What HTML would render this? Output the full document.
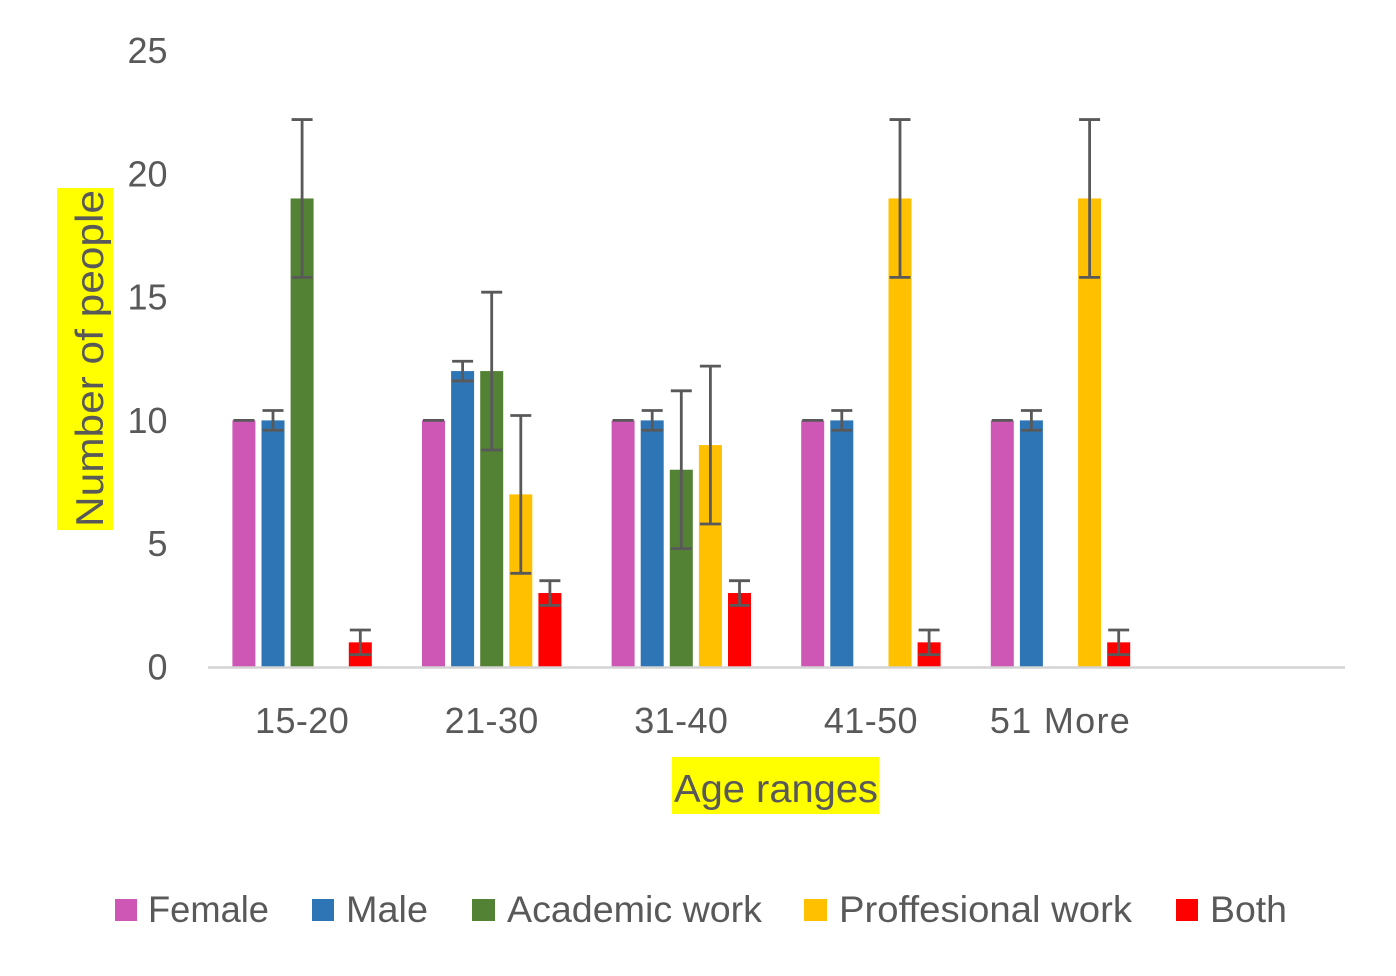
<!DOCTYPE html>
<html lang="en">
<head>
<meta charset="utf-8">
<title>Number of people by age range</title>
<style>
  html, body { margin: 0; padding: 0; background: #fff; }
  svg { display: block; }
  text { font-family: "Liberation Sans", sans-serif; fill: #595959; }
</style>
</head>
<body>
<svg id="chart" xmlns="http://www.w3.org/2000/svg" width="1396" height="976" viewBox="0 0 1396 976">
  <rect x="0" y="0" width="1396" height="976" fill="#ffffff"/>
  <g id="marks"></g>
  <rect x="57" y="188" width="56" height="342" fill="#ffff00"/>
  <text transform="translate(103,527) rotate(-90)" font-size="39" textLength="337" lengthAdjust="spacingAndGlyphs">Number of people</text>
  <rect x="672" y="757" width="207" height="57" fill="#ffff00"/>
  <text x="674" y="802" font-size="39" textLength="204" lengthAdjust="spacingAndGlyphs">Age ranges</text>
  <g>
    <g>
      <rect x="115" y="899" width="22" height="22" fill="#ce57b5"/>
      <text x="148" y="922" font-size="37" textLength="121" lengthAdjust="spacingAndGlyphs">Female</text>
    </g>
    <g>
      <rect x="312" y="899" width="22" height="22" fill="#2e75b6"/>
      <text x="346" y="922" font-size="37" textLength="82" lengthAdjust="spacingAndGlyphs">Male</text>
    </g>
    <g>
      <rect x="472" y="899" width="23" height="22" fill="#548235"/>
      <text x="507" y="922" font-size="37" textLength="255" lengthAdjust="spacingAndGlyphs">Academic work</text>
    </g>
    <g>
      <rect x="804" y="899" width="23" height="22" fill="#ffc000"/>
      <text x="839" y="922" font-size="37" textLength="293" lengthAdjust="spacingAndGlyphs">Proffesional work</text>
    </g>
    <g>
      <rect x="1176" y="899" width="22" height="22" fill="#ff0000"/>
      <text x="1210" y="922" font-size="37" textLength="77" lengthAdjust="spacingAndGlyphs">Both</text>
    </g>
  </g>
</svg>
<script>
const categories = ["15-20", "21-30", "31-40", "41-50", "51 More", ""];
const yTicks = [0, 5, 10, 15, 20, 25];
const seriesNames = ["female", "male", "academic-work", "proffesional-work", "both"];
const seriesColors = ["#ce57b5", "#2e75b6", "#548235", "#ffc000", "#ff0000"];
const femaleValues = [10, 10, 10, 10, 10, null];
const maleValues = [10, 12, 10, 10, 10, null];
const academicValues = [19, 12, 8, null, null, null];
const professionalValues = [null, 7, 9, 19, 19, null];
const bothValues = [1, 3, 3, 1, 1, null];
const errorAmounts = [0, 0.4, 3.2, 3.2, 0.5];

const seriesValues = [femaleValues, maleValues, academicValues, professionalValues, bothValues];
const NS = "http://www.w3.org/2000/svg";
const marks = document.getElementById("marks");

function yScale(v) { return 667 - (v / 25) * 616.5; }
function xCenter(i) { return 207.3 + 189.6 * (i + 0.5); }
function xBar(i, s) { return xCenter(i) + (s - 2) * 29.1; }

function make(tag, attrs) {
  const el = document.createElementNS(NS, tag);
  for (const k in attrs) el.setAttribute(k, attrs[k]);
  marks.appendChild(el);
  return el;
}

yTicks.forEach(function (t) {
  const el = make("text", { x: 167.5, y: yScale(t) + 12.5, "font-size": 36, "text-anchor": "end" });
  el.textContent = String(t);
  
  
});

categories.forEach(function (c, i) {
  if (!c) return;
  const el = make("text", {
    x: xCenter(i), y: 733, "font-size": 36, "text-anchor": "middle",
    "letter-spacing": c.indexOf(" ") >= 0 ? 1.3 : 0.4
  });
  el.textContent = c;
  
  
});

seriesValues.forEach(function (values, s) {
  values.forEach(function (v, i) {
    if (v === null) return;
    const cx = xBar(i, s);
    const bar = make("rect", { x: cx - 11.5, y: yScale(v), width: 23, height: yScale(0) - yScale(v), fill: seriesColors[s] });
    
    
  });
});

const axisLine = make("line", { x1: 208, x2: 1345, y1: 667.5, y2: 667.5, stroke: "#d4d4d4", "stroke-width": 2.6 });



seriesValues.forEach(function (values, s) {
  values.forEach(function (v, i) {
    if (v === null) return;
    const cx = xBar(i, s);
    const hi = yScale(v + errorAmounts[s]);
    const lo = yScale(v - errorAmounts[s]);
    const d = "M" + (cx - 10.5) + " " + hi + "H" + (cx + 10.5) +
              "M" + cx + " " + hi + "V" + lo +
              "M" + (cx - 10.5) + " " + lo + "H" + (cx + 10.5);
    const err = make("path", { d: d, fill: "none", stroke: "#595959", "stroke-width": 2.8 });
    
    
  });
});
</script>
</body>
</html>
